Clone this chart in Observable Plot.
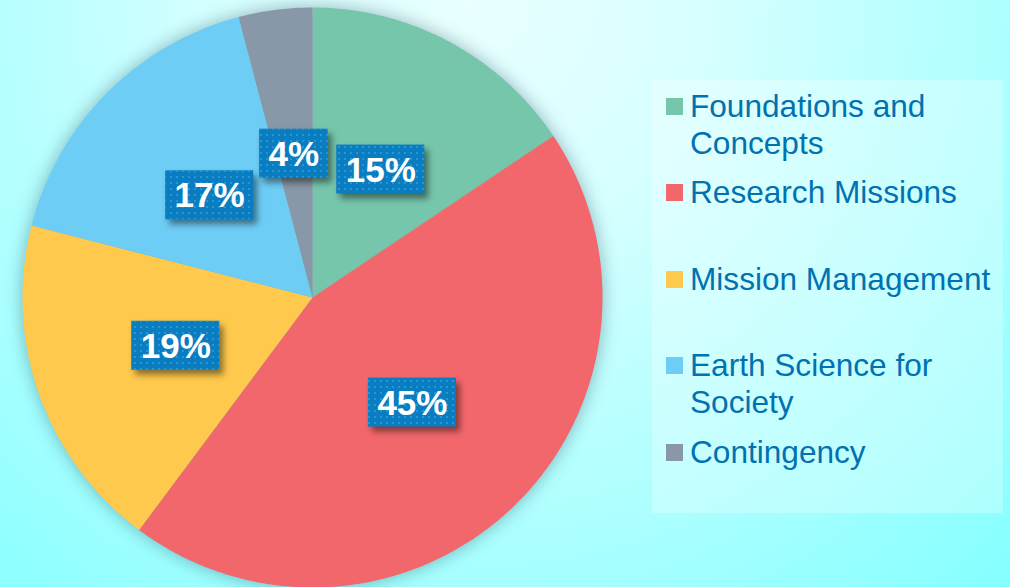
<!DOCTYPE html>
<html>
<head>
<meta charset="utf-8">
<script src="https://cdn.jsdelivr.net/npm/d3@7"></script>
<script src="https://cdn.jsdelivr.net/npm/@observablehq/plot@0.6"></script>
<style>
  html, body { margin: 0; padding: 0; }
  body { width: 1010px; height: 587px; overflow: hidden;
    background: radial-gradient(circle 820px at 470px 0px, #eaffff 0%, #d6ffff 30%, #a8ffff 70%, #80ffff 100%);
    font-family: "Liberation Sans", Arial, sans-serif; }
  #wrap { position: relative; width: 1010px; height: 587px; }
  #chart svg { display: block; }
  .pie { filter: drop-shadow(0 0 9px rgba(0,40,60,0.35)); }
  .boxes { filter: drop-shadow(4px 5px 3px rgba(0,0,0,0.45)); }
  #legend { position: absolute; left: 652px; top: 80px; width: 351px; height: 433px;
    background: rgba(255,255,255,0.28); }
  .item { position: absolute; left: 0; display: flex; align-items: flex-start; }
  .sw { width: 17px; height: 17px; margin-left: 14px; margin-top: 10px; margin-right: 7px; flex: none; }
  .lab { font-size: 31.6px; line-height: 37px; color: #0072B2; white-space: pre; }
</style>
</head>
<body>
<div id="wrap">
  <div id="chart"></div>
  <div id="legend"></div>
</div>
<script>
const categories = ["Foundations and Concepts", "Research Missions", "Mission Management", "Earth Science for Society", "Contingency"];
const legendLines = ["Foundations and\nConcepts", "Research Missions", "Mission Management", "Earth Science for\nSociety", "Contingency"];
const values = [15.6, 44.6, 18.8, 16.9, 4.1];
const labels = ["15%", "45%", "19%", "17%", "4%"];
const colors = ["#76C6AC", "#F2676C", "#FFC94D", "#6DCDF5", "#8898A8"];

const total = d3.sum(values);
const slices = [];
const labelRows = [];
let acc = 0;
values.forEach((v, i) => {
  const a0 = acc / total * 2 * Math.PI;
  acc += v;
  const a1 = acc / total * 2 * Math.PI;
  const n = Math.max(2, Math.ceil((a1 - a0) / 0.01));
  slices.push({name: categories[i], x: 0, y: 0, color: colors[i]});
  for (let k = 0; k <= n; k++) {
    const a = a0 + (a1 - a0) * k / n;
    slices.push({name: categories[i], x: Math.sin(a), y: Math.cos(a), color: colors[i]});
  }
  slices.push({name: categories[i], x: 0, y: 0, color: colors[i]});
  const am = (a0 + a1) / 2;
  labelRows.push({label: labels[i], x: 0.5 * Math.sin(am), y: 0.5 * Math.cos(am)});
});

// box size from measured text (pixels -> data units: 290 px per unit)
const ctx = document.createElement("canvas").getContext("2d");
ctx.font = "bold 35px 'Liberation Sans'";
const pxPerUnit = 290;
labelRows.forEach(d => {
  const w = ctx.measureText(d.label).width + 18;
  const h = 49;
  d.x1 = d.x - w / 2 / pxPerUnit; d.x2 = d.x + w / 2 / pxPerUnit;
  d.y1 = d.y - h / 2 / pxPerUnit; d.y2 = d.y + h / 2 / pxPerUnit;
});

const plot = Plot.plot({
  width: 1010,
  height: 587,
  marginLeft: 22,
  marginRight: 408,
  marginTop: 7,
  marginBottom: 0,
  x: {domain: [-1, 1], axis: null},
  y: {domain: [-1, 1], axis: null},
  color: {type: "identity"},
  style: {background: "transparent", overflow: "visible"},
  marks: [
    Plot.line(slices, {x: "x", y: "y", z: "name", fill: "color", stroke: "none", curve: "linear", className: "pie"}),
    Plot.rect(labelRows, {x1: "x1", x2: "x2", y1: "y1", y2: "y2", fill: "#0A7DC0", className: "boxes"}),
    Plot.rect(labelRows, {x1: "x1", x2: "x2", y1: "y1", y2: "y2", fill: "white", className: "dotpat"}),
    Plot.text(labelRows, {x: "x", y: "y", text: "label", fill: "white", fontSize: 35, fontWeight: "bold",
      fontFamily: "Liberation Sans, Arial, sans-serif", dy: 1})
  ]
});

// dotted pattern for label boxes
const ns = "http://www.w3.org/2000/svg";
const defs = document.createElementNS(ns, "defs");
defs.innerHTML = `<pattern id="dots" width="6" height="6" patternUnits="userSpaceOnUse">
  <rect x="2" y="2" width="2" height="2" fill="#2FA3E8" fill-opacity="0.7"/></pattern>`;
plot.insertBefore(defs, plot.firstChild);
plot.querySelectorAll(".dotpat rect").forEach(r => r.setAttribute("fill", "url(#dots)"));
plot.querySelectorAll("g.dotpat").forEach(g => g.setAttribute("fill", "url(#dots)"));

document.getElementById("chart").appendChild(plot);

// legend
const legend = document.getElementById("legend");
legendLines.forEach((t, i) => {
  const item = document.createElement("div");
  item.className = "item";
  item.style.top = (7.5 + i * 86.5) + "px";
  const sw = document.createElement("div");
  sw.className = "sw";
  sw.style.background = colors[i];
  const lab = document.createElement("div");
  lab.className = "lab";
  lab.textContent = t;
  item.appendChild(sw);
  item.appendChild(lab);
  legend.appendChild(item);
});
</script>
</body>
</html>
